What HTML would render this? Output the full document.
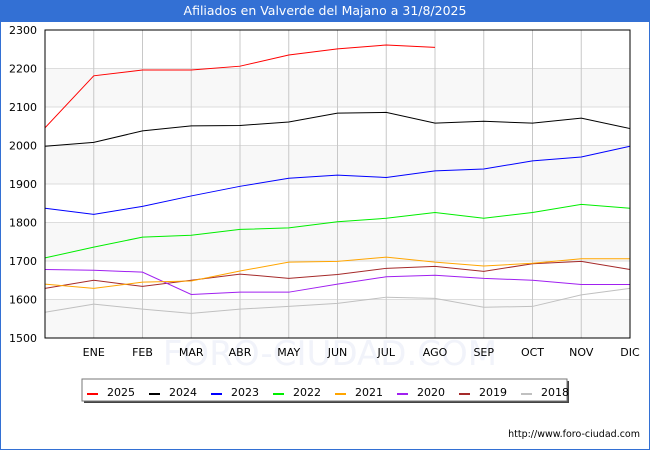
<!DOCTYPE html>
<html><head><meta charset="utf-8"><style>
body{margin:0;background:#fff;font-family:"DejaVu Sans","Liberation Sans",sans-serif}
#wrap{position:relative;width:648px;height:449px;border:1px solid #3370d4;border-top:none;overflow:hidden}
#title{position:absolute;left:0;top:0;width:648px;height:22px;background:#3370d4;color:#fff;font-size:12.5px;line-height:22px;text-align:center}
</style></head><body>
<div id="wrap">
<div id="title">Afiliados en Valverde del Majano a 31/8/2025</div>
<svg id="svg" width="650" height="450" style="position:absolute;left:-1px;top:0"></svg>
</div>
<script>
const months=["","ENE","FEB","MAR","ABR","MAY","JUN","JUL","AGO","SEP","OCT","NOV","DIC"];
const yTicks=[1500,1600,1700,1800,1900,2000,2100,2200,2300];
const years=["2025","2024","2023","2022","2021","2020","2019","2018"];
const colors=["#ff0000","#000000","#0000ff","#00ee00","#ffa500","#a020f0","#a52a2a","#c0c0c0"];
const s2025=[2046,2181,2196,2196,2206,2235,2251,2261,2255];
const s2024=[1998,2008,2038,2051,2052,2061,2084,2086,2058,2063,2058,2071,2044];
const s2023=[1837,1821,1842,1869,1894,1915,1923,1917,1934,1939,1960,1970,1998];
const s2022=[1708,1736,1762,1767,1782,1786,1802,1811,1826,1811,1826,1847,1837];
const s2021=[1640,1629,1645,1648,1674,1697,1699,1710,1697,1687,1694,1706,1706];
const s2020=[1678,1676,1671,1613,1619,1619,1640,1659,1663,1655,1650,1639,1639];
const s2019=[1629,1650,1634,1650,1666,1655,1665,1681,1686,1673,1693,1699,1678];
const s2018=[1567,1588,1575,1564,1575,1582,1590,1606,1603,1580,1582,1612,1629];
const series=[s2025,s2024,s2023,s2022,s2021,s2020,s2019,s2018];
const L=45,R=630,T=30,B=338,yMin=1500,yMax=2300;
const xs=i=>L+i*(R-L)/12;
const ys=v=>B-(v-yMin)/(yMax-yMin)*(B-T);
const svg=document.getElementById('svg');const NS="http://www.w3.org/2000/svg";
function mk(t,a,p){const e=document.createElementNS(NS,t);for(const k in a)e.setAttribute(k,a[k]);(p||svg).appendChild(e);return e;}
for(let i=0;i<yTicks.length-1;i++){if(i%2==0){const r=mk('rect',{x:L,y:ys(yTicks[i+1]),width:R-L,height:ys(yTicks[i])-ys(yTicks[i+1]),fill:'#f8f8f8'});}}
const wm=mk('text',{x:330,y:365,'text-anchor':'middle','font-size':34,fill:'#f1f3fa'});wm.textContent='FORO-CIUDAD.COM';
yTicks.forEach(v=>{const g=mk('line',{x1:L,x2:R,y1:ys(v),y2:ys(v),stroke:'#dddddd'});
const t=mk('text',{x:37,y:ys(v)+4,'text-anchor':'end','font-size':11,fill:'#000'});t.textContent=v;});
months.forEach((m,i)=>{if(i>0){const g=mk('line',{x1:xs(i),x2:xs(i),y1:T,y2:B,stroke:'#c8c8c8'});
const t=mk('text',{x:xs(i),y:356,'text-anchor':'middle','font-size':11,fill:'#000'});t.textContent=m;}});
for(let k=series.length-1;k>=0;k--){const pts=series[k].map((v,i)=>xs(i)+','+ys(v)).join(' ');const p=mk('polyline',{points:pts,fill:'none',stroke:colors[k],'stroke-width':1});}
const fr=mk('rect',{x:L,y:T,width:R-L,height:B-T,fill:'none',stroke:'#000'});
const lg=mk('g',{});
mk('rect',{x:84,y:381,width:485,height:22,fill:'#444'},lg);
mk('rect',{x:82,y:379,width:485,height:22,fill:'#fff',stroke:'#777'},lg);
years.forEach((y,k)=>{const x=87+k*62;const g=mk('g',{},lg);
mk('line',{x1:x,x2:x+11,y1:394,y2:394,stroke:colors[k],'stroke-width':2},g);
const t=mk('text',{x:x+20,y:396,'font-size':11,fill:'#000'},g);t.textContent=y;});
const u=mk('text',{x:640,y:437,'text-anchor':'end','font-size':9.5,fill:'#000'});u.textContent='http://www.foro-ciudad.com';
</script>
</body></html>
